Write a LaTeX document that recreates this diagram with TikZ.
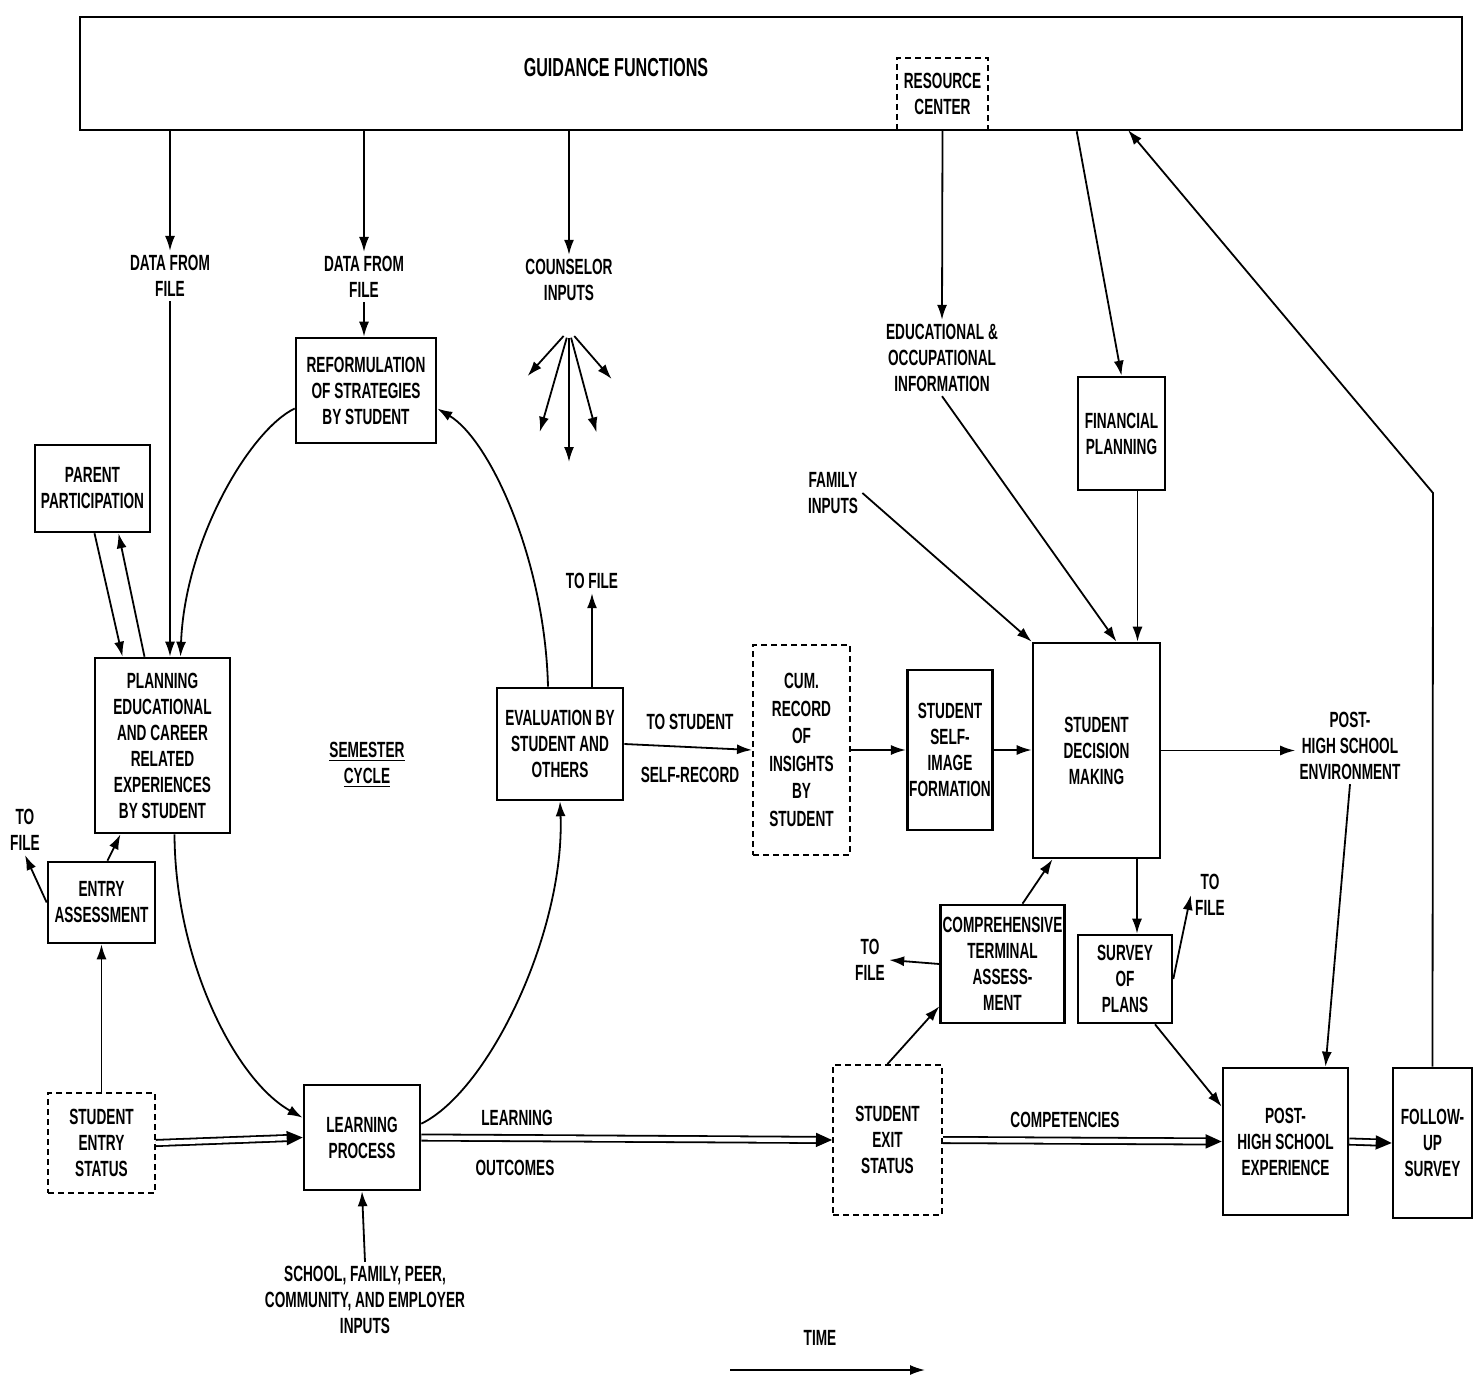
\documentclass[tikz,border=0pt]{standalone}
\usepackage{fontspec}
\setmainfont{Liberation Sans}[FakeStretch=0.62]
\usepackage{tikz}
\usetikzlibrary{arrows.meta,decorations.markings}

\tikzset{
  box/.style={draw, line width=1.3pt, align=center, inner sep=1pt},
  dbox/.style={box, line width=1pt, dash pattern=on 3pt off 2pt},
  lbl/.style={align=center, inner sep=2pt},
  sz/.style 2 args={minimum width=#1*0.5pt, minimum height=#2*0.5pt},
  arr/.style={-{Latex[length=7.5pt,width=5pt]}, line width=0.9pt},
  dbl/.style={double, double distance=2.2pt, line width=0.9pt, shorten >=6pt,
    postaction={decorate, decoration={markings,
      mark=at position 1 with {\fill (0pt,0pt) -- (-8pt,3.6pt) -- (-8pt,-3.6pt) -- cycle;}}}},
}

\begin{document}
\begin{tikzpicture}[x=0.5pt, y=-0.5pt, font=\fontsize{11}{13}\selectfont\bfseries]
    \useasboundingbox (0,0) rectangle (1478,1380);
    \node[box, sz={1382}{113}] (gf) at (771,73.5) {};
    \node[lbl, font=\fontsize{13}{15}\selectfont\bfseries] (gft) at (616,68) {GUIDANCE FUNCTIONS};
    \node[dbox, sz={91}{72}] (rc) at (942.5,94) {RESOURCE\\CENTER};
    \node[lbl] (dfa) at (170,276) {DATA FROM\\FILE};
    \node[lbl] (dfb) at (364,277) {DATA FROM\\FILE};
    \node[lbl] (ci) at (569,280) {COUNSELOR\\INPUTS};
    \node[lbl] (eoi) at (942,358) {EDUCATIONAL \&\\OCCUPATIONAL\\INFORMATION};
    \node[box, sz={87}{113}] (fp) at (1121.5,433.5) {FINANCIAL\\PLANNING};
    \node[lbl] (fi) at (833,493) {FAMILY\\INPUTS};
    \node[box, sz={127}{215}] (sdm) at (1096.5,750.5) {STUDENT\\DECISION\\MAKING};
    \node[lbl] (env) at (1350,746) {POST-\\HIGH SCHOOL\\ENVIRONMENT};
    \node[box, sz={125}{147}] (phx) at (1285.5,1141.5) {POST-\\HIGH SCHOOL\\EXPERIENCE};
    \node[box, sz={79}{150}] (fus) at (1432.5,1143) {FOLLOW-\\UP\\SURVEY};
    \node[box, sz={94}{88}] (sop) at (1125,979) {SURVEY\\OF\\PLANS};
    \node[lbl] (tfs) at (1210,895) {TO\\FILE};
    \node[box, sz={121}{118}] (cta) at (1002.5,964) {COMPREHENSIVE\\TERMINAL\\ASSESS-\\MENT};
    \node[lbl] (tfc) at (870,960) {TO\\FILE};
    \node[dbox, sz={109}{150}] (ses) at (887.5,1140) {STUDENT\\EXIT\\STATUS};
    \node[lbl] (comp) at (1065,1120) {COMPETENCIES};
    \node[box, sz={116}{105}] (lp) at (362,1137.5) {LEARNING\\PROCESS};
    \node[lbl] (lo) at (517,1118) {LEARNING};
    \node[lbl] (lo2) at (515,1168) {OUTCOMES};
    \node[dbox, sz={107}{100}] (sen) at (101.5,1143) {STUDENT\\ENTRY\\STATUS};
    \node[box, sz={107}{81}] (ea) at (101.5,902.5) {ENTRY\\ASSESSMENT};
    \node[lbl] (tfe) at (25,830) {TO\\FILE};
    \node[box, sz={115}{87}] (pp) at (92.5,488.5) {PARENT\\PARTICIPATION};
    \node[box, sz={135}{175}] (pe) at (162.5,745.5) {PLANNING\\EDUCATIONAL\\AND CAREER\\RELATED\\EXPERIENCES\\BY STUDENT};
    \node[box, sz={140}{105}] (rs) at (366,390.5) {REFORMULATION\\OF STRATEGIES\\BY STUDENT};
    \node[lbl] (sc) at (367,765) {\underline{SEMESTER}\\\underline{CYCLE}};
    \node[box, sz={126}{112}] (ev) at (560,744) {EVALUATION BY\\STUDENT AND\\OTHERS};
    \node[lbl] (tfv) at (592,581) {TO FILE};
    \node[lbl] (ts) at (690,722) {TO STUDENT};
    \node[lbl] (sr) at (690,775) {SELF-RECORD};
    \node[dbox, sz={97}{210}, font=\fontsize{11}{13.8}\selectfont\bfseries] (cr) at (801.5,750) {CUM.\\RECORD\\OF\\INSIGHTS\\BY\\STUDENT};
    \node[box, sz={84}{160}] (ssi) at (950,750) {STUDENT\\SELF-\\IMAGE\\FORMATION};
    \node[lbl] (sfi) at (365,1300) {SCHOOL, FAMILY, PEER,\\COMMUNITY, AND EMPLOYER\\INPUTS};
    \node[lbl] (tm) at (820,1338) {TIME};

    \draw[arr] (gf.south -| dfa) -- (dfa.north);
    \draw[arr] (dfa.south) -- (pe.north -| dfa);
    \draw[arr] (gf.south -| dfb) -- (dfb.north);
    \draw[arr] (dfb.south) -- (rs.north -| dfb);
    \draw[arr] (gf.south -| ci) -- (ci.north);
    \coordinate (fan) at (569,330);
    \foreach \a/\l in {132/54, 106/98, 90/124, 75/98, 49/57}
        \draw[arr] ([shift={(\a:8)}]fan) -- ++(\a:\l);
    \draw[arr] (rc.south) -- (eoi.north);
    \draw[arr] (eoi.south) -- ([xshift=10pt]sdm.north);
    \draw[arr] (gf.south -| fp.west) -- (fp.north);
    \draw[arr] ([xshift=8pt]fp.south) -- ([xshift=8pt]fp.south |- sdm.north);
    \draw[arr] (fi.east) -- (sdm.north west);
    \draw[arr] (sdm.east) -- (sdm.east -| env.west);
    \draw[arr] (env.south) -- ([xshift=20pt]phx.north);
    \draw[dbl] (phx.east) -- (fus.west);
    \coordinate (fb) at (1433,493);
    \coordinate (fg) at (1128,130);
    \draw[arr] (fus.north) -- (fb) -- (fg);
    \draw[arr] ([xshift=6pt]sop.north |- sdm.south) -- ([xshift=6pt]sop.north);
    \draw[arr] (sop.east) -- (tfs.west);
    \draw[arr] ([xshift=15pt]sop.south) -- ([yshift=-20pt]phx.north west);
    \draw[arr] ([xshift=10pt]cta.north) -- ([xshift=-22pt]sdm.south);
    \draw[arr] (cta.west) -- (tfc.east);
    \draw[arr] (ses.north) -- ([yshift=9pt]cta.south west);
    \draw[dbl] (ses.east) -- (phx.west);
    \draw[dbl] (lp.east) -- (ses.west);
    \draw[dbl] (sen.east) -- (lp.west);
    \draw[arr] (sen.north) -- (ea.south);
    \draw[arr] ([xshift=3pt]ea.north) -- ([xshift=-21pt]pe.south);
    \draw[arr] (ea.west) -- (tfe.south);
    \draw[arr] ([xshift=1pt]pp.south) -- ([xshift=-20pt]pe.north);
    \draw[arr] ([xshift=-9pt]pe.north) -- ([xshift=13pt]pp.south);
    \draw[arr] ([yshift=-9pt]rs.west) .. controls (250,430) and (185,540) .. ([xshift=9pt]pe.north);
    \draw[arr] ([xshift=6pt]pe.south) .. controls (175,960) and (235,1080) .. ([yshift=-17pt]lp.north west);
    \draw[arr] ([yshift=-20pt]lp.north east) .. controls (490,1090) and (565,930) .. (ev.south);
    \draw[arr] ([xshift=-6pt]ev.north) .. controls (545,560) and (490,440) .. ([yshift=-9pt]rs.east);
    \draw[arr] (ev.north -| tfv) -- (tfv.south);
    \draw[arr] (ev.east) -- (cr.west);
    \draw[arr] (cr.east) -- (ssi.west);
    \draw[arr] (ssi.east) -- (ssi.east -| sdm.west);
    \draw[arr] (sfi.north) -- (lp.south);
    \coordinate (t0) at (730,1370);
    \coordinate (t1) at (925,1370);
    \draw[arr] (t0) -- (t1);
\end{tikzpicture}
\end{document}
